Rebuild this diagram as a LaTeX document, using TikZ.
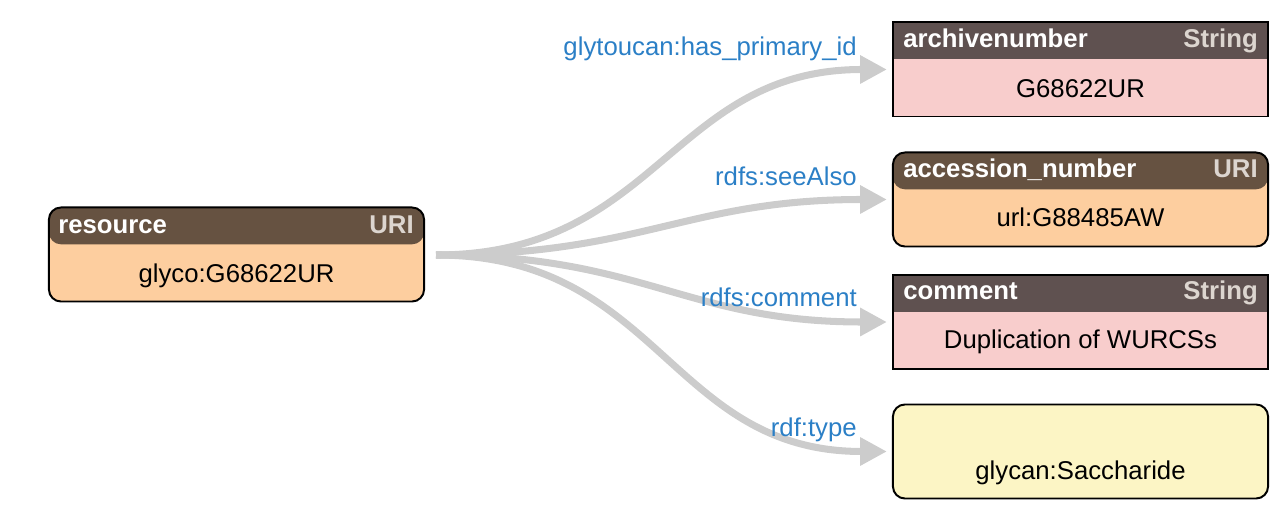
\documentclass[tikz,border=0pt]{standalone}
\usepackage{fontspec}
\setmainfont{Liberation Sans}
\usetikzlibrary{arrows.meta}
\definecolor{headbrown}{HTML}{665241}
\definecolor{headgray}{HTML}{5F5150}
\definecolor{typegray}{HTML}{DCD5CF}
\definecolor{peach}{HTML}{FDCE9F}
\definecolor{rosepink}{HTML}{F8CDCC}
\definecolor{cream}{HTML}{FCF5C5}
\definecolor{edgegray}{HTML}{CCCCCC}
\definecolor{labelblue}{HTML}{2B7FC6}
\begin{document}
\begin{tikzpicture}[x=0.025cm, y=-0.025cm,
  box/.style={draw, line width=1.4pt, minimum width=9.375cm, minimum height=2.35cm, inner sep=0pt, outer sep=0pt},
  roundbox/.style={box, rounded corners=8.5pt},
  header/.style={path picture={\fill[#1] (path picture bounding box.north west) rectangle ([yshift=-0.92cm]path picture bounding box.north east);}},
  txt/.style={inner sep=0pt, font=\fontsize{18.3pt}{22pt}\selectfont},
  headtext/.style={txt, text=white, font=\fontsize{18.3pt}{22pt}\selectfont\bfseries},
  typetext/.style={headtext, text=typegray},
  edgelabel/.style={txt, text=labelblue},
  link/.style={draw=edgegray, line width=5pt, -{Triangle[length=19pt,width=19pt]}, shorten >=4.3pt}]
\useasboundingbox (0,0) rectangle (1277,523);
% subject
\node[roundbox, fill=peach, header=headbrown] (res) at (236.5,254.5) {};
\node[headtext, anchor=base west] (resname) at (58,234) {resource};
\node[typetext, anchor=base east] (restype) at (414,234) {URI};
\node[txt, anchor=base] (resval) at (236.5,283) {glyco:G68622UR};
% objects
\node[box, fill=rosepink, header=headgray] (arch) at (1080.5,69.5) {};
\node[headtext, anchor=base west] (archname) at (903,48) {archivenumber};
\node[typetext, anchor=base east] (archtype) at (1258,48) {String};
\node[txt, anchor=base] (archval) at (1080.5,98) {G68622UR};
\node[roundbox, fill=peach, header=headbrown] (acc) at (1080.5,199.5) {};
\node[headtext, anchor=base west] (accname) at (903,178) {accession\_number};
\node[typetext, anchor=base east] (acctype) at (1258,178) {URI};
\node[txt, anchor=base] (accval) at (1080.5,227) {url:G88485AW};
\node[box, fill=rosepink, header=headgray] (com) at (1080.5,322) {};
\node[headtext, anchor=base west] (comname) at (903,300) {comment};
\node[typetext, anchor=base east] (comtype) at (1258,300) {String};
\node[txt, anchor=base] (comval) at (1080.5,349) {Duplication of WURCSs};
\node[roundbox, fill=cream] (typ) at (1080.5,451.5) {};
\node[txt, anchor=base] (typval) at (1080.5,480) {glycan:Saccharide};
% predicates
\coordinate (src) at (436,255);
\draw[link] (src) to[out=0, in=180, looseness=1.15] (arch.west);
\draw[link] (src) to[out=0, in=180, looseness=1.15] (acc.west);
\draw[link] (src) to[out=0, in=180, looseness=1.15] (com.west);
\draw[link] (src) to[out=0, in=180, looseness=1.15] (typ.west);
\node[edgelabel, anchor=base east] (lblid) at (857,56) {glytoucan:has\_primary\_id};
\node[edgelabel, anchor=base east] (lblsee) at (857,186) {rdfs:seeAlso};
\node[edgelabel, anchor=base east] (lblcom) at (857,307) {rdfs:comment};
\node[edgelabel, anchor=base east] (lbltyp) at (857,437) {rdf:type};
\end{tikzpicture}
\end{document}
